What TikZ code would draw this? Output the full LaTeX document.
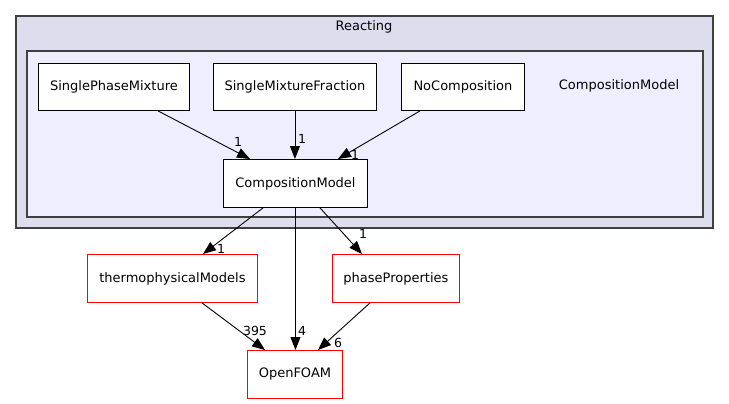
\documentclass[tikz,border=0pt]{standalone}
\usepackage{fontspec}
\setmainfont{DejaVu Sans}
\usetikzlibrary{arrows.meta}
\definecolor{outerfill}{HTML}{DDDDEE}
\definecolor{innerfill}{HTML}{EEEEFF}
\definecolor{frame}{HTML}{404040}
\tikzset{
  lbl/.style={font=\fontsize{13}{15}\selectfont},
  box/.style={draw=black, fill=white, line width=0.9pt, inner sep=0pt, anchor=north west, lbl},
  redbox/.style={draw=red, fill=white, line width=0.9pt, inner sep=0pt, anchor=north west, lbl},
  dep/.style={-{Triangle[length=13pt,width=10pt]}, line width=0.9pt},
  elab/.style={font=\fontsize{12.5}{14}\selectfont, inner sep=0pt}
}
\begin{document}
\begin{tikzpicture}[x=1pt,y=-1pt]
\useasboundingbox (0,0) rectangle (729,404);
\fill[white] (0,0) rectangle (729,404);
% clusters
\draw[fill=outerfill, draw=frame, line width=1.3pt] (16,16) rectangle (713,228);
\node[lbl] (reacting) at (364,27) {Reacting};
\draw[fill=innerfill, draw=frame, line width=1.3pt] (27,51) rectangle (703,217);
\node[lbl] (cmlabel) at (619,86) {CompositionModel};
% nodes
\node[box, minimum width=151pt, minimum height=47pt] (spm) at (38,63) {SinglePhaseMixture};
\node[box, minimum width=163pt, minimum height=47pt] (smf) at (213,63) {SingleMixtureFraction};
\node[box, minimum width=123pt, minimum height=47pt] (noc) at (401,63) {NoComposition};
\node[box, minimum width=144pt, minimum height=48pt] (cm) at (223,159) {CompositionModel};
\node[redbox, minimum width=170pt, minimum height=48pt] (thm) at (87,254) {thermophysicalModels};
\node[redbox, minimum width=127pt, minimum height=48pt] (pp) at (332,254) {phaseProperties};
\node[redbox, minimum width=95pt, minimum height=48pt] (of) at (247,350) {OpenFOAM};
% edges
\draw[dep] ([xshift=120pt]spm.south west) -- ([xshift=27pt]cm.north west);
\draw[dep] (smf.south) -- (cm.north -| smf.south);
\draw[dep] ([xshift=19pt]noc.south west) -- ([xshift=115pt]cm.north west);
\draw[dep] ([xshift=40pt]cm.south west) -- ([xshift=116pt]thm.north west);
\draw[dep] (cm.south) -- (of.north -| cm.south);
\draw[dep] ([xshift=97pt]cm.south west) -- ([xshift=30pt]pp.north west);
\draw[dep] ([xshift=115pt]thm.south west) -- ([xshift=18pt]of.north west);
\draw[dep] ([xshift=38pt]pp.south west) -- ([xshift=71pt]of.north west);
% edge labels
\node[elab] (l1) at (238,142) {1};
\node[elab] (l2) at (302,139) {1};
\node[elab] (l3) at (355,155) {1};
\node[elab] (l4) at (221,249) {1};
\node[elab] (l5) at (363,234) {1};
\node[elab] (l6) at (255,331) {395};
\node[elab] (l7) at (302,331) {4};
\node[elab] (l8) at (338,343) {6};
\end{tikzpicture}
\end{document}
